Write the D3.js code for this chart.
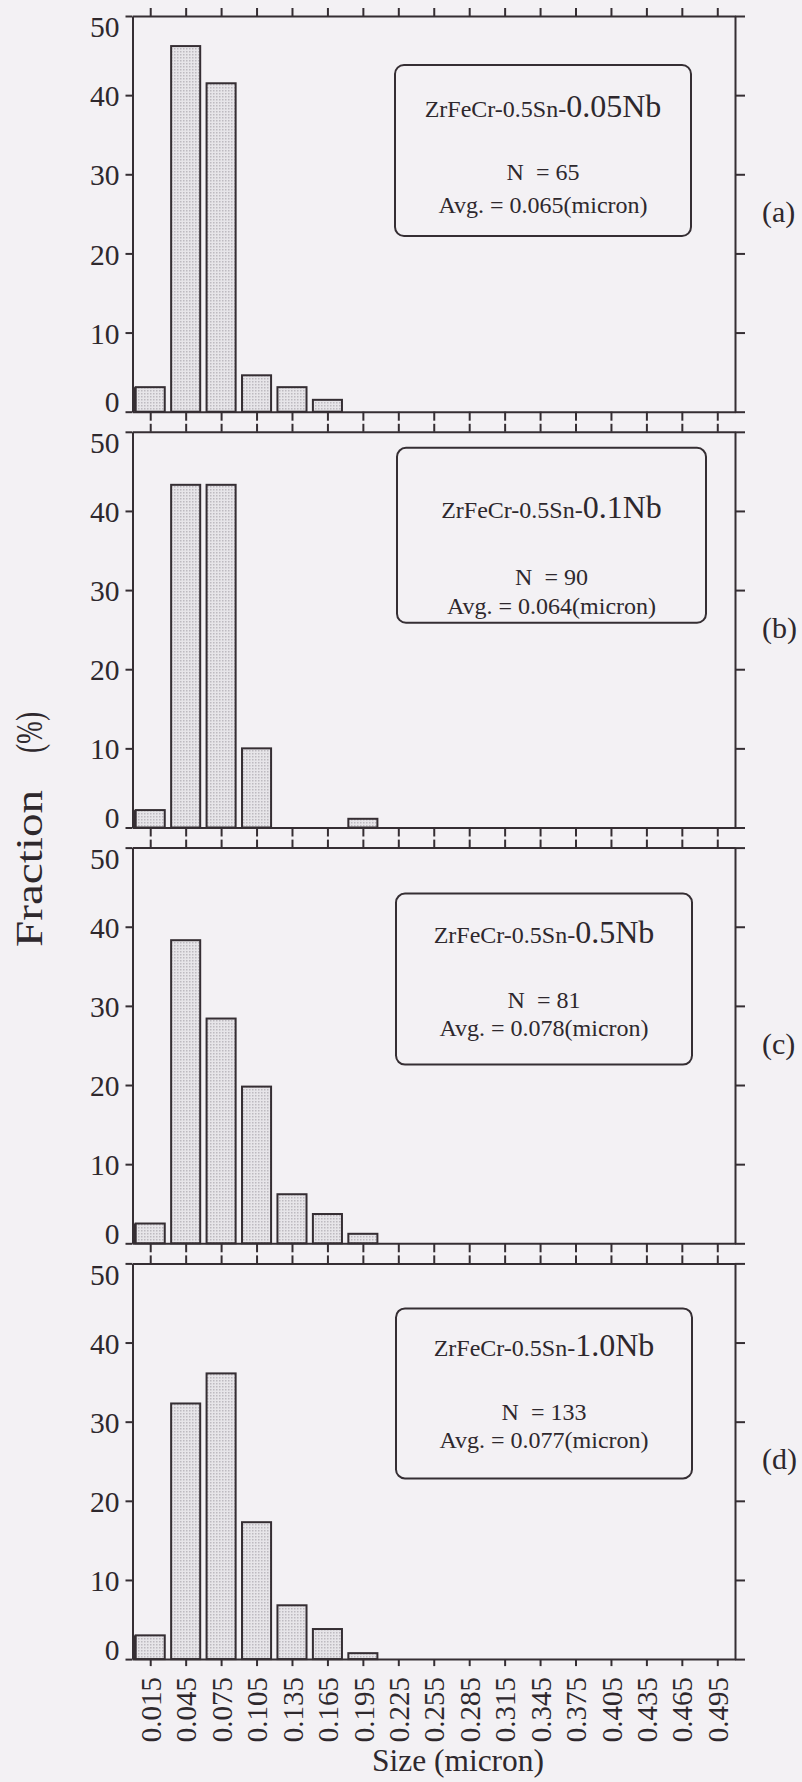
<!DOCTYPE html>
<html>
<head>
<meta charset="utf-8">
<script src="https://cdn.jsdelivr.net/npm/d3@7"></script>
<style>
  html, body { margin: 0; padding: 0; background: #f3f1f4; }
  svg { display: block; }
  text { font-family: "Liberation Serif", "DejaVu Serif", serif; fill: #2e282d; }
</style>
</head>
<body>
<svg id="chart" width="802" height="1782"></svg>
<script>
// Size classes (bin centres, micron); each bin is 0.03 micron wide
const sizeBins = [0.015, 0.045, 0.075, 0.105, 0.135, 0.165, 0.195, 0.225, 0.255,
                  0.285, 0.315, 0.345, 0.375, 0.405, 0.435, 0.465, 0.495];
const tickLabels = ["0.015", "0.045", "0.075", "0.105", "0.135", "0.165", "0.195", "0.225", "0.255",
                    "0.285", "0.315", "0.345", "0.375", "0.405", "0.435", "0.465", "0.495"];
const binWidth = 0.03;

// Fraction (%) of precipitates in each size class
const frac005Nb = [3.1, 46.2, 41.5, 4.6, 3.1, 1.5, 0, 0, 0, 0, 0, 0, 0, 0, 0, 0, 0];
const frac01Nb  = [2.2, 43.3, 43.3, 10.0, 0, 0, 1.1, 0, 0, 0, 0, 0, 0, 0, 0, 0, 0];
const frac05Nb  = [2.5, 38.3, 28.4, 19.8, 6.2, 3.7, 1.2, 0, 0, 0, 0, 0, 0, 0, 0, 0, 0];
const frac10Nb  = [3.0, 32.3, 36.1, 17.3, 6.8, 3.8, 0.75, 0, 0, 0, 0, 0, 0, 0, 0, 0, 0];

const alloyBase = "ZrFeCr-0.5Sn-";
const nbContent = ["0.05Nb", "0.1Nb", "0.5Nb", "1.0Nb"];
const counts = [65, 90, 81, 133];
const averages = ["0.065", "0.064", "0.078", "0.077"];
const panelTags = ["(a)", "(b)", "(c)", "(d)"];
const yTicks = [0, 10, 20, 30, 40, 50];

const series = [frac005Nb, frac01Nb, frac05Nb, frac10Nb];

// ---- layout ----
const ink = "#352e33";
const plotLeft = 132.5, plotRight = 735;
const firstTop = 16, panelStep = 415.8, panelH = 395.7;
// annotation box of each panel, relative to the panel's top edge
const boxLayout = [
  { x: 395, y: 49, w: 296, h: 171, t1: 52, t2: 115, t3: 148 },
  { x: 397, y: 16, w: 309, h: 175, t1: 70, t2: 137, t3: 166 },
  { x: 396, y: 46, w: 296, h: 171, t1: 49, t2: 114, t3: 142 },
  { x: 396, y: 45, w: 296, h: 170, t1: 48, t2: 112, t3: 140 }
];

const svg = d3.select("#chart");

// light stippled fill used by the bars
const defs = svg.append("defs");
const pat = defs.append("pattern")
  .attr("id", "stipple").attr("patternUnits", "userSpaceOnUse")
  .attr("width", 3).attr("height", 3);
pat.append("rect").attr("width", 3).attr("height", 3).attr("fill", "#e7e5e9");
pat.append("rect").attr("width", 1.5).attr("height", 1.5).attr("fill", "#bdbac0");

const x = d3.scaleLinear().domain([0, 0.51]).range([plotLeft, plotRight]);
const barW = (x(binWidth) - x(0)) * 0.82;

series.forEach((vals, i) => {
  const top = firstTop + i * panelStep;
  const y = d3.scaleLinear().domain([0, 50]).range([top + panelH, top]);
  const g = svg.append("g");

  // bars
  const bins = sizeBins.map((s, k) => ({ s, v: vals[k] })).filter(d => d.v > 0);
  g.append("g").selectAll("rect").data(bins).join("rect")
    .attr("x", d => x(d.s) - barW / 2)
    .attr("y", d => y(d.v))
    .attr("width", barW)
    .attr("height", d => y(0) - y(d.v))
    .attr("fill", "url(#stipple)")
    .attr("stroke", ink).attr("stroke-width", 2);

  // first bin starts at the axis: solid sliver between axis and its bar
  g.append("rect")
    .attr("x", x(0))
    .attr("y", y(vals[0]))
    .attr("width", x(sizeBins[0]) - barW / 2 - x(0))
    .attr("height", y(0) - y(vals[0]))
    .attr("fill", ink);

  // axes on all four sides
  const left = g.append("g").attr("transform", `translate(${plotLeft},0)`)
    .call(d3.axisLeft(y).tickValues(yTicks).tickSize(7).tickSizeOuter(0).tickPadding(6));
  left.selectAll("text")
    .attr("font-size", 29.5)
    .attr("dy", d => d === 0 ? "0em" : d === 50 ? "0.7em" : "0.36em");

  g.append("g").attr("transform", `translate(${plotRight},0)`)
    .call(d3.axisRight(y).tickValues(yTicks).tickSize(10).tickSizeOuter(0).tickFormat(""));

  g.append("g").attr("transform", `translate(0,${top})`)
    .call(d3.axisTop(x).tickValues(sizeBins).tickSize(8).tickSizeOuter(0).tickFormat(""));

  const last = i === series.length - 1;
  const bottom = g.append("g").attr("transform", `translate(0,${top + panelH})`)
    .call(d3.axisBottom(x).tickValues(sizeBins).tickSize(last ? 7 : 9).tickSizeOuter(0)
      .tickFormat((d, k) => last ? tickLabels[k] : ""));
  if (last) {
    bottom.selectAll("text")
      .attr("font-size", 29)
      .attr("transform", "rotate(-90)")
      .attr("text-anchor", "end")
      .attr("x", -18).attr("y", 0).attr("dy", "0.35em");
  }

  g.selectAll(".domain, .tick line").attr("stroke", ink).attr("stroke-width", 2);
  g.selectAll(".tick text").attr("fill", "#2e282d");

  // annotation box
  const b = boxLayout[i];
  const cx = b.x + b.w / 2;
  g.append("rect")
    .attr("x", b.x).attr("y", top + b.y).attr("width", b.w).attr("height", b.h)
    .attr("rx", 9).attr("fill", "none").attr("stroke", ink).attr("stroke-width", 2);
  const title = g.append("text").attr("x", cx).attr("y", top + b.y + b.t1)
    .attr("text-anchor", "middle");
  title.append("tspan").attr("font-size", 24).text(alloyBase);
  title.append("tspan").attr("font-size", 32).text(nbContent[i]);
  g.append("text").attr("x", cx).attr("y", top + b.y + b.t2)
    .attr("text-anchor", "middle").attr("font-size", 24)
    .text(`N\u00a0\u00a0= ${counts[i]}`);
  g.append("text").attr("x", cx).attr("y", top + b.y + b.t3)
    .attr("text-anchor", "middle").attr("font-size", 24)
    .text(`Avg. = ${averages[i]}(micron)`);

  // panel tag
  g.append("text").attr("x", 762).attr("y", top + 206)
    .attr("font-size", 30).text(panelTags[i]);
});

// axis titles
svg.append("text")
  .attr("transform", "translate(42,947) rotate(-90)")
  .attr("font-size", 37).attr("textLength", 157).attr("lengthAdjust", "spacingAndGlyphs")
  .text("Fraction");
svg.append("text")
  .attr("transform", "translate(42,753) rotate(-90)")
  .attr("font-size", 37).attr("textLength", 41).attr("lengthAdjust", "spacingAndGlyphs")
  .text("(%)");

svg.append("text")
  .attr("x", 372).attr("y", 1771)
  .attr("font-size", 31).attr("textLength", 172).attr("lengthAdjust", "spacingAndGlyphs")
  .text("Size (micron)");
</script>
</body>
</html>
